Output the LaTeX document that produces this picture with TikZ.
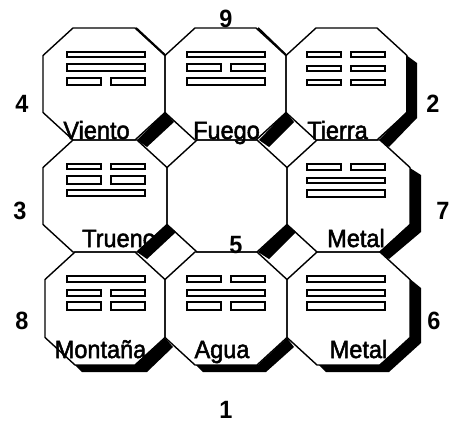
\documentclass[tikz,border=0pt]{standalone}
\usepackage{fontspec}
\setmainfont[FakeStretch=0.94,FakeBold=2]{Liberation Sans}
\newfontfamily\numfont[FakeStretch=0.94]{Liberation Sans Bold}
\tikzset{
  octa/.style={draw,line width=1.4pt,line join=miter},
  blackedge/.style={fill=black,draw=none},
  bar/.style={draw,line width=1.4pt,fill=white},
  lbl/.style={inner sep=0pt,anchor=base,font=\fontsize{25}{25}\selectfont},
  num/.style={inner sep=0pt,anchor=base,font=\numfont\fontsize{25}{25}\selectfont},
}
% x1,x2,y1,y2 of one octagon
\newcommand{\octagon}[4]{
  \draw[octa] ({#1+30},#3) -- ({#2-30},#3) -- (#2,{#3+27.5}) -- (#2,{#4-27.5})
    -- ({#2-30},#4) -- ({#1+30},#4) -- (#1,{#4-27.5}) -- (#1,{#3+27.5}) -- cycle;
}
% x, top, bottom of one line of a sign
\newcommand{\solidbar}[3]{\draw[bar] (#1,#2) rectangle ({#1+78},#3);}
\newcommand{\brokenbar}[3]{
  \draw[bar] (#1,#2) rectangle ({#1+34},#3);
  \draw[bar] ({#1+44},#2) rectangle ({#1+78},#3);
}
\begin{document}
\begin{tikzpicture}[x=1pt,y=-1pt]
  \useasboundingbox (0,0) rectangle (452,421);

  % names
  \path (96.5,139) node[lbl] (viento) {Viento};
  \path (226.5,139) node[lbl] (fuego) {Fuego};
  \path (337.5,139) node[lbl] (tierra) {Tierra};
  \path (119,247) node[lbl] (trueno) {Trueno};
  \path (356,247) node[lbl] (metalA) {Metal};
  \path (100.5,358) node[lbl] (montana) {Montaña};
  \path (222,358) node[lbl] (agua) {Agua};
  \path (358.5,358) node[lbl] (metalB) {Metal};

  % numbers
  \path (226,27) node[num] (n9) {9};
  \path (22,112) node[num] (n4) {4};
  \path (433,112) node[num] (n2) {2};
  \path (20,219) node[num] (n3) {3};
  \path (443,219) node[num] (n7) {7};
  \path (236,253) node[num] (n5) {5};
  \path (22,329) node[num] (n8) {8};
  \path (434,329) node[num] (n6) {6};
  \path (226,418) node[num] (n1) {1};

  % octagons
  \foreach \xa/\xb/\ya/\yb in {43/165/28/140,165/286/28/140,286/407/28/140,
      43/167/140/252,167/287/140/252,287/410/140/252,
      45/165/252/365,165/287/252/365,287/410/252/365}
    {\octagon{\xa}{\xb}{\ya}{\yb}}

  % black edges
  \fill[blackedge] (165,112) -- (174,122) -- (147,147) -- (137,140) -- cycle;
  \fill[blackedge] (286,112) -- (294,122) -- (269,147) -- (259,140) -- cycle;
  \fill[blackedge] (406,55) -- (417,63) -- (417,118) -- (389,147) -- (379,140) -- (406,112) -- cycle;
  \fill[blackedge] (167,224) -- (176,232) -- (147,259) -- (137,252) -- cycle;
  \fill[blackedge] (287,224) -- (296,232) -- (269,259) -- (258,252) -- cycle;
  \fill[blackedge] (410,168) -- (421,175) -- (421,232) -- (389,259) -- (379,252) -- (410,224) -- cycle;
  \fill[blackedge] (165,338) -- (173,347) -- (147,372) -- (82,372) -- (75,365) -- (135,365) -- cycle;
  \fill[blackedge] (287,338) -- (294,347) -- (266,372) -- (203,372) -- (196,365) -- (258,365) -- cycle;
  \fill[blackedge] (410,279) -- (421,288) -- (421,343) -- (389,372) -- (326,372) -- (319,365) -- (379,365) -- (410,338) -- cycle;
  \draw[line width=2pt] (136,28) -- (165,55);
  \draw[line width=2pt] (258,28) -- (286,55);

  % Viento
  \solidbar{67}{52}{57} \solidbar{67}{64}{71} \brokenbar{67}{78}{85}
  % Fuego
  \solidbar{187}{52}{57} \brokenbar{187}{64}{71} \solidbar{187}{78}{85}
  % Tierra
  \brokenbar{307}{52}{57} \brokenbar{307}{66}{71} \brokenbar{307}{80}{85}
  % Trueno
  \brokenbar{67}{164}{169} \brokenbar{67}{176}{184} \solidbar{67}{190}{196}
  % Metal
  \brokenbar{307}{164}{170} \solidbar{307}{178}{183} \solidbar{307}{190}{197}
  % Montana
  \solidbar{67}{276}{282} \brokenbar{67}{290}{296} \brokenbar{67}{302}{310}
  % Agua
  \brokenbar{187}{276}{282} \solidbar{187}{290}{296} \brokenbar{187}{302}{310}
  % Metal
  \solidbar{307}{276}{282} \solidbar{307}{290}{296} \solidbar{307}{302}{310}
\end{tikzpicture}
\end{document}
